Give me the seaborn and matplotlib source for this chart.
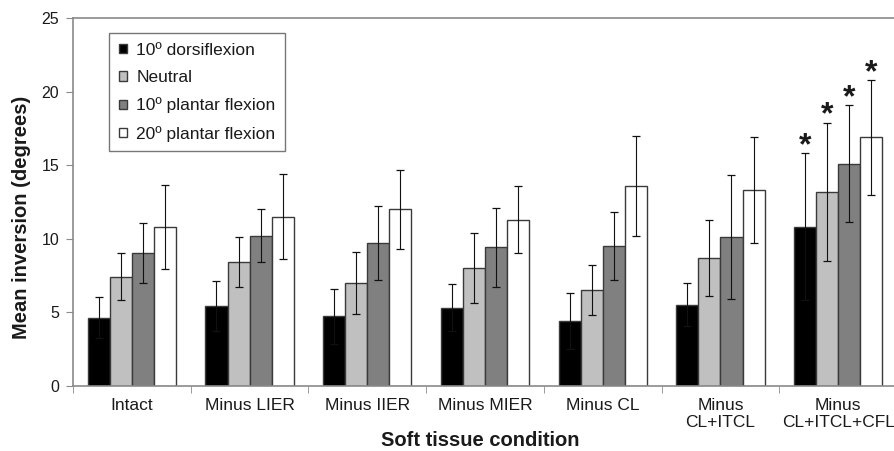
import matplotlib
matplotlib.use("Agg")
import matplotlib.pyplot as plt
import numpy as np
import pandas as pd
import seaborn as sns

conditions = ["Intact", "Minus LIER", "Minus IIER", "Minus MIER", "Minus CL",
              "Minus\nCL+ITCL", "Minus\nCL+ITCL+CFL"]
positions = ["10º dorsiflexion", "Neutral", "10º plantar flexion", "20º plantar flexion"]

dorsi_mean = [4.6, 5.4, 4.7, 5.3, 4.4, 5.5, 10.8]
neutral_mean = [7.4, 8.4, 7.0, 8.0, 6.5, 8.7, 13.2]
plantar10_mean = [9.0, 10.2, 9.7, 9.4, 9.5, 10.1, 15.1]
plantar20_mean = [10.8, 11.5, 12.0, 11.3, 13.6, 13.3, 16.9]

dorsi_sd = [1.4, 1.7, 1.9, 1.6, 1.9, 1.45, 5.0]
neutral_sd = [1.6, 1.7, 2.1, 2.4, 1.7, 2.6, 4.7]
plantar10_sd = [2.05, 1.8, 2.5, 2.7, 2.3, 4.2, 4.0]
plantar20_sd = [2.85, 2.9, 2.7, 2.3, 3.4, 3.6, 3.9]

significant = ["Minus\nCL+ITCL+CFL"]

means = [dorsi_mean, neutral_mean, plantar10_mean, plantar20_mean]
sds = [dorsi_sd, neutral_sd, plantar10_sd, plantar20_sd]

df = pd.DataFrame({
    "condition": np.repeat([conditions], len(positions), axis=0).ravel(),
    "position": np.repeat(positions, len(conditions)),
    "mean": np.concatenate(means),
    "sd": np.concatenate(sds),
})

sns.set_style("white")
plt.rcParams['font.family'] = ['Liberation Sans', 'DejaVu Sans']
text_color = '#1a1a1a'
axis_color = '#8a8a8a'

fig = plt.figure(figsize=(8.94, 4.51), dpi=100)
ax = fig.add_axes([73 / 894, 1 - 385.5 / 451, 824 / 894, (385.5 - 18.3) / 451])

palette = {positions[0]: '#000000', positions[1]: '#c0c0c0',
           positions[2]: '#808080', positions[3]: '#ffffff'}
sns.barplot(data=df, x="condition", y="mean", hue="position", order=conditions,
            hue_order=positions, palette=palette, width=0.75, errorbar=None,
            edgecolor='#3a3a3a', linewidth=1.0, saturation=1, ax=ax)

# error bars + significance markers, placed on the bars seaborn drew
for container, pos in zip(ax.containers, positions):
    sub = df[df["position"] == pos].set_index("condition").loc[conditions]
    xs = [bar.get_x() + bar.get_width() / 2 for bar in container]
    ax.errorbar(xs, sub["mean"], yerr=sub["sd"], fmt='none', ecolor='#111111',
                elinewidth=0.8, capsize=3, capthick=0.9, zorder=5)
    for x, cond, m, s in zip(xs, conditions, sub["mean"], sub["sd"]):
        if cond in significant:
            ax.text(x, m + s - 0.55, "*", ha='center', va='bottom', fontsize=23,
                    fontweight='bold', color=text_color)

ax.set_xlim(-0.5, len(conditions) - 0.5)
ax.set_ylim(0, 25)
ax.set_yticks(range(0, 26, 5))
ax.set_xticks(np.arange(len(conditions)))
ax.set_xticklabels(conditions, fontsize=12.5, color=text_color, linespacing=1.2)
ax.set_xticks(np.arange(-0.5, len(conditions)), minor=True)
ax.tick_params(axis='x', which='major', length=0, pad=9)
ax.tick_params(axis='x', which='minor', length=5, direction='out', color=axis_color, bottom=True)
ax.tick_params(axis='y', length=5, direction='out', color=axis_color, left=True,
               labelsize=11.5, labelcolor=text_color, pad=5)

for side in ['left', 'bottom', 'top']:
    ax.spines[side].set_visible(True)
    ax.spines[side].set_color(axis_color)
    ax.spines[side].set_linewidth(1.2)
ax.spines['right'].set_visible(False)

ax.set_xlabel("Soft tissue condition", fontsize=14.5, fontweight='bold', color=text_color)
ax.set_ylabel("Mean inversion (degrees)", fontsize=14.5, fontweight='bold', color=text_color)
ax.xaxis.set_label_coords(0.494, -0.125)
ax.yaxis.set_label_coords(-0.051, 0.459)

leg = ax.legend(loc='upper left', bbox_to_anchor=(0.044, 0.96), borderaxespad=0,
                fontsize=12.5, frameon=True, fancybox=False, handlelength=0.45,
                handleheight=0.45, handletextpad=0.55, labelspacing=0.72,
                borderpad=0.55, title=None)
leg.get_frame().set_edgecolor('#555555')
leg.get_frame().set_linewidth(1.0)
for t in leg.get_texts():
    t.set_color(text_color)

fig.savefig("out.png", dpi=100)
